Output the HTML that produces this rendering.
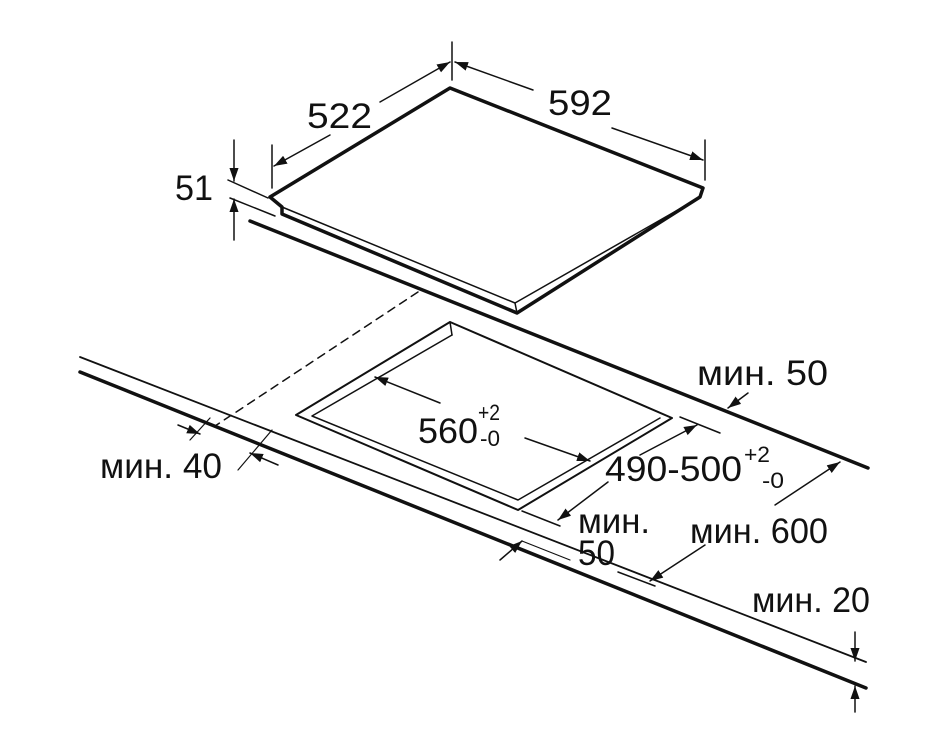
<!DOCTYPE html>
<html><head><meta charset="utf-8"><style>
html,body{margin:0;padding:0;background:#fff;}
svg{display:block}
text{font-family:"Liberation Sans",sans-serif;fill:#111;}
</style></head><body>
<svg width="925" height="751" viewBox="0 0 925 751" xmlns="http://www.w3.org/2000/svg">
<defs>
<marker id="a" viewBox="0 0 10 10" refX="10" refY="5" markerWidth="13" markerHeight="13" orient="auto-start-reverse" markerUnits="userSpaceOnUse"><path d="M0,1.5 L10,5 L0,8.5 Z" fill="#111"/></marker>
</defs>
<g stroke="#111" fill="none" stroke-linecap="round" stroke-linejoin="round">
<path d="M270,197 L450,88 L703,188 L700,197 L517,313 L282,214 L282,207 Z" stroke-width="3.5"/>
<path d="M282,207 L515,303 L690,203" stroke-width="1.5"/>
<path d="M515,303 L517,313" stroke-width="1.5"/>
<path d="M250,221 L868,468" stroke-width="3.5"/>
<path d="M80,357 L866,662" stroke-width="1.8"/>
<path d="M80,372 L866,688" stroke-width="3.5"/>
<path d="M450,322 L296,415 L518,510 L672,418 Z" stroke-width="2"/>
<path d="M452,335 L312,416 L518,500 L660,418" stroke-width="1.5"/>
<path d="M452,335 L450,322" stroke-width="1.5"/>
<path d="M418,292 L215,426" stroke-width="1.5" stroke-dasharray="8,6"/>
<path d="M452,42 L452,80" stroke-width="1.5"/>
<path d="M272,145 L272,188" stroke-width="1.5"/>
<path d="M705,140 L705,180" stroke-width="1.5"/>
<path d="M330,135 L274,166" stroke-width="1.5" marker-end="url(#a)"/>
<path d="M380,102 L450,62" stroke-width="1.5" marker-end="url(#a)"/>
<path d="M533,90 L455,62" stroke-width="1.5" marker-end="url(#a)"/>
<path d="M612,128 L703,160" stroke-width="1.5" marker-end="url(#a)"/>
<path d="M228,180 L268,198 M230,198 L275,216" stroke-width="1.5"/>
<path d="M234,140 L234,181" stroke-width="1.5" marker-end="url(#a)"/>
<path d="M234,240 L234,199" stroke-width="1.5" marker-end="url(#a)"/>
<path d="M440,403 L375,377" stroke-width="1.5" marker-end="url(#a)"/>
<path d="M525,438 L590,461" stroke-width="1.5" marker-end="url(#a)"/>
<path d="M680,417 L720,433" stroke-width="1.5"/>
<path d="M640,455 L697,425" stroke-width="1.5" marker-end="url(#a)"/>
<path d="M522,511 L560,526" stroke-width="1.5"/>
<path d="M608,482 L558,520" stroke-width="1.5" marker-end="url(#a)"/>
<path d="M748,393 L728,408" stroke-width="1.5" marker-end="url(#a)"/>
<path d="M190,440 L210,418 M238,470 L272,430" stroke-width="1.2"/>
<path d="M178,425 L200,434" stroke-width="1.5" marker-end="url(#a)"/>
<path d="M278,465 L250,453" stroke-width="1.5" marker-end="url(#a)"/>
<path d="M500,560 L522,541" stroke-width="1.5" marker-end="url(#a)"/>
<path d="M522,541 L570,560" stroke-width="1.2"/>
<path d="M618,572 L655,586" stroke-width="1.5"/>
<path d="M775,505 L840,462" stroke-width="1.5" marker-end="url(#a)"/>
<path d="M705,545 L650,581" stroke-width="1.5" marker-end="url(#a)"/>
<path d="M855,632 L855,661" stroke-width="1.5" marker-end="url(#a)"/>
<path d="M855,712 L855,686" stroke-width="1.5" marker-end="url(#a)"/>
</g>
<g font-size="35" lengthAdjust="spacingAndGlyphs">
<text x="307" y="128" textLength="65" lengthAdjust="spacingAndGlyphs">522</text>
<text x="548" y="115" textLength="64" lengthAdjust="spacingAndGlyphs">592</text>
<text x="175" y="200" textLength="38" lengthAdjust="spacingAndGlyphs">51</text>
<text x="697" y="385" textLength="131" lengthAdjust="spacingAndGlyphs">мин. 50</text>
<text x="418" y="443" textLength="60" lengthAdjust="spacingAndGlyphs">560</text>
<text x="478" y="420" font-size="22" textLength="22" lengthAdjust="spacingAndGlyphs">+2</text>
<text x="480" y="446" font-size="22" textLength="20" lengthAdjust="spacingAndGlyphs">-0</text>
<text x="605" y="481" textLength="137" lengthAdjust="spacingAndGlyphs">490-500</text>
<text x="744" y="462" font-size="22" textLength="26" lengthAdjust="spacingAndGlyphs">+2</text>
<text x="762" y="488" font-size="22" textLength="22" lengthAdjust="spacingAndGlyphs">-0</text>
<text x="100" y="478" textLength="122" lengthAdjust="spacingAndGlyphs">мин. 40</text>
<text x="578" y="533" textLength="72" lengthAdjust="spacingAndGlyphs">мин.</text>
<text x="578" y="565" textLength="37" lengthAdjust="spacingAndGlyphs">50</text>
<text x="690" y="543" textLength="138" lengthAdjust="spacingAndGlyphs">мин. 600</text>
<text x="752" y="612" textLength="118" lengthAdjust="spacingAndGlyphs">мин. 20</text>
</g>
</svg>
</body></html>
